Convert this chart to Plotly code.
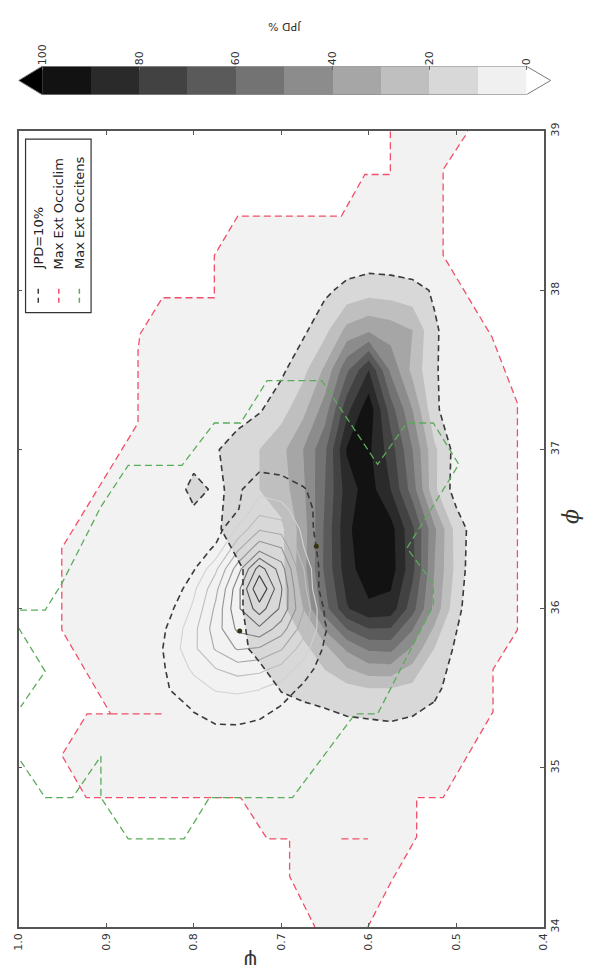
import plotly.graph_objects as go

# ---------------------------------------------------------------------------
# Joint probability density (JPD %) of the first data set, on a psi/phi grid
# ---------------------------------------------------------------------------
PSI_F = [0.45, 0.475, 0.5, 0.525, 0.55, 0.575, 0.6, 0.625, 0.65,
         0.675, 0.7, 0.725, 0.75, 0.775, 0.8, 0.825, 0.85]
PHI_F = [35.0, 35.25, 35.5, 35.75, 36.0, 36.25, 36.5, 36.75,
         37.0, 37.25, 37.5, 37.75, 38.0, 38.25, 38.5]
JPD_FILLED = [
    [0, 0, 0, 1, 2, 2, 2, 2, 2, 1, 1, 0, 0, 0, 0, 0, 0],
    [0, 0, 2, 6, 7, 8, 7, 7, 6, 6, 5, 3, 1, 0, 0, 0, 0],
    [0, 3, 6, 12, 17, 20, 20, 17, 14, 12, 10.5, 6, 2, 0, 0, 0, 0],
    [0, 0, 8, 20, 38, 53, 52, 42, 27, 17, 14, 12, 8, 3, 0, 0, 0],
    [0, 1, 13, 37, 64, 86, 88, 79, 56, 30, 17, 13, 9, 4, 0, 0, 0],
    [0, 0, 17, 40, 73, 95, 96, 86, 62, 36, 17, 13, 9, 5, 0, 0, 0],
    [0, 3, 16, 42, 72, 94, 97, 88, 62, 35, 18, 15, 13, 9, 4, 0, 0],
    [0, 0, 5, 22, 55, 80, 95, 85, 60, 38, 25, 20, 13, 8, 14, 3, 0],
    [0, 0, 6, 22, 50, 75, 92, 91, 58, 40, 27, 20, 15, 9, 4, 0, 0],
    [0, 0, 3, 12, 40, 65, 97, 77, 45, 27, 16, 9, 5, 0, 0, 0, 0],
    [0, 0, 5, 11, 27, 48, 80, 58, 32, 17, 8, 4, 0, 0, 0, 0, 0],
    [0, 0, 6, 11, 30, 35, 38, 33, 17, 8, 4, 0, 0, 0, 0, 0, 0],
    [0, 0, 5, 9, 13, 15, 16, 13, 8, 4, 2, 0, 0, 0, 0, 0, 0],
    [0, 0, 0, 1, 2, 2, 2, 2, 1, 0, 0, 0, 0, 0, 0, 0, 0],
    [0, 0, 0, 0, 0, 0, 0, 0, 0, 0, 0, 0, 0, 0, 0, 0, 0],
]

# ---------------------------------------------------------------------------
# JPD (%) of the second data set, drawn as line contours
# ---------------------------------------------------------------------------
PSI_L = [0.625, 0.65, 0.675, 0.7, 0.725, 0.75, 0.775, 0.8, 0.825, 0.85]
PHI_L = [35.0, 35.125, 35.25, 35.375, 35.5, 35.625, 35.75, 35.875, 36.0,
         36.125, 36.25, 36.375, 36.5, 36.625, 36.75, 36.875, 37.0]
JPD_LINES = [
    [0, 0, 0, 0, 0, 0, 0, 0, 0, 0],
    [0, 0, 0, 1, 3, 4, 4, 3, 1, 0],
    [0, 0, 1, 3, 7, 9, 9, 6, 2, 0],
    [0, 0, 3, 9, 14, 15, 14, 11, 5, 0],
    [0, 0, 8, 16, 20.5, 22, 21, 16, 11, 2],
    [0, 4, 16, 27, 33, 35, 30, 22, 13, 3],
    [0, 8, 25, 41, 49, 51, 41, 28, 15, 3],
    [0, 11, 35, 55, 68, 62, 45, 27, 13, 2],
    [0, 8, 41, 68, 85, 68, 42, 22, 9, 0],
    [0, 0, 35, 71, 100, 66, 37, 18, 2, 0],
    [0, 2, 31, 65, 85, 55, 28, 9, 2, 0],
    [0, 3, 21, 51, 57, 38, 12, 3, 0, 0],
    [0, 2, 17, 36, 39, 22, 4, 0, 0, 0],
    [0, 5, 14, 23, 26, 9, 3, 0, 0, 0],
    [0, 4, 11, 15, 17, 8, 2, 0, 0, 0],
    [0, 0, 4, 8, 9, 5, 2, 0, 0, 0],
    [0, 0, 0, 2, 3, 2, 0, 0, 0, 0],
]

# Points marked on the 10 % contours
DOT_PSI = [0.660, 0.7475]
DOT_PHI = [36.393, 35.861]

# ---------------------------------------------------------------------------
# Maximum extent of Occiclim (red): two open boundary pieces (psi, phi)
# ---------------------------------------------------------------------------
CLIM_A_PSI = [0.5754, 0.5754, 0.6045, 0.6313, 0.7497, 0.7765, 0.7765, 0.8358,
              0.8615, 0.8637, 0.8637, 0.9508, 0.9508, 0.9508,
              0.8950, 0.9218, 0.9508, 0.9229, 0.7464, 0.7162, 0.6905, 0.6905,
              0.6615]
CLIM_A_PHI = [39.0, 38.728, 38.728, 38.467, 38.467, 38.220, 37.954, 37.954,
              37.724, 37.619, 37.167, 36.381, 36.053, 35.867,
              35.340, 35.340, 35.080, 34.814, 34.814, 34.554, 34.554, 34.319,
              34.0]
CLIM_B_PSI = [0.6011, 0.5754, 0.5453, 0.5453, 0.5151, 0.4581, 0.4581, 0.4302,
              0.4302, 0.4592, 0.5151, 0.5151, 0.4894, 0.4872]
CLIM_B_PHI = [34.0, 34.276, 34.567, 34.814, 34.814, 35.353, 35.619, 35.867,
              37.291, 37.706, 38.220, 38.759, 38.975, 39.0]
# short isolated pieces of the same boundary
CLIM_C_PSI = [0.8950, 0.8358, None, 0.6313, 0.6011]
CLIM_C_PHI = [35.340, 35.340, None, 34.554, 34.554]

# ---------------------------------------------------------------------------
# Maximum extent of Occitens (green)
# ---------------------------------------------------------------------------
TENS_PSI = [1.0, 0.9698, 0.9978, None,
            0.9978, 0.9698, 0.9385, 0.9061, 0.9061, 0.8749, 0.8112, 0.7821,
            0.6872, 0.6156, 0.5899, 0.5263, 0.5263, 0.5564, 0.4972, 0.5263,
            0.5564, 0.5899, 0.6536, 0.7162, 0.7464, 0.7765, 0.8134, 0.8469,
            0.8749, 0.9061, 0.9508, 0.9698, 1.0]
TENS_PHI = [35.879, 35.607, 35.384, None,
            35.043, 34.814, 34.814, 35.074, 34.814, 34.554, 34.554, 34.814,
            34.814, 35.340, 35.340, 36.022, 36.158, 36.381, 36.907, 37.167,
            37.167, 36.907, 37.433, 37.433, 37.167, 37.167, 36.901, 36.901,
            36.901, 36.641, 36.158, 35.991, 35.991]

# Colour bar
CBAR_LEVELS = [0, 10, 20, 30, 40, 50, 60, 70, 80, 90, 100]
CBAR_TICKS = [0, 20, 40, 60, 80, 100]
GREYS = ['#f0f0f0', '#d8d8d8', '#bfbfbf', '#a6a6a6', '#8c8c8c',
         '#737373', '#5a5a5a', '#424242', '#2a2a2a', '#121212']

PSI_TICKS = [0.4, 0.5, 0.6, 0.7, 0.8, 0.9, 1.0]
PHI_TICKS = [34, 35, 36, 37, 38, 39]

RED = '#f0506a'
GREEN = '#5aac5a'
DARK = '#3a3a3a'
W, H = 589, 976


def px_x(p):
    return p / W


def px_y(p):
    return 1 - p / H


def step_scale(colors):
    n = len(colors)
    scale = []
    for i, c in enumerate(colors):
        scale.append([i / n, c])
        scale.append([(i + 1) / n, c])
    return scale


fig = go.Figure()

# light-grey area covered by the Occiclim extent (drawn under the contours)
region_psi = CLIM_A_PSI + CLIM_B_PSI
region_phi = CLIM_A_PHI + CLIM_B_PHI
path = 'M ' + ' L '.join(f'{a},{b}' for a, b in zip(region_psi, region_phi)) + ' Z'
fig.add_shape(type='path', path=path, xref='x', yref='y', layer='below',
              fillcolor='#f2f2f2', line=dict(width=0))

# filled JPD contours
fill_scale = step_scale(['rgba(255,255,255,0)'] + GREYS[1:])
fig.add_trace(go.Contour(
    x=PSI_F, y=PHI_F, z=JPD_FILLED, zmin=0, zmax=100,
    autocontour=False,
    contours=dict(start=10, end=90, size=10, coloring='fill', showlines=False),
    colorscale=fill_scale, showscale=False,
    line=dict(width=0, smoothing=0), hoverinfo='skip'))

# line contours of the second JPD
fig.add_trace(go.Contour(
    x=PSI_L, y=PHI_L, z=JPD_LINES, zmin=10, zmax=100,
    autocontour=False,
    contours=dict(start=20, end=90, size=10, coloring='lines'),
    colorscale=[[0, '#d2d2d2'], [1, '#404040']], showscale=False,
    line=dict(width=1.1, smoothing=0), hoverinfo='skip'))

# JPD = 10 % dashed contours of both data sets
for xs, ys, zs in ((PSI_F, PHI_F, JPD_FILLED), (PSI_L, PHI_L, JPD_LINES)):
    fig.add_trace(go.Contour(
        x=xs, y=ys, z=zs, autocontour=False,
        contours=dict(start=10, end=10, size=10, coloring='none'),
        line=dict(color=DARK, width=1.6, dash='6px,4px', smoothing=0),
        showscale=False, hoverinfo='skip'))

# Occiclim extent
for xs, ys in ((CLIM_A_PSI, CLIM_A_PHI), (CLIM_B_PSI, CLIM_B_PHI),
               (CLIM_C_PSI, CLIM_C_PHI)):
    fig.add_trace(go.Scatter(x=xs, y=ys, mode='lines', connectgaps=False,
                             line=dict(color=RED, width=1.3, dash='7px,4px'),
                             hoverinfo='skip'))

# Occitens extent
fig.add_trace(go.Scatter(x=TENS_PSI, y=TENS_PHI, mode='lines', connectgaps=False,
                         line=dict(color=GREEN, width=1.3, dash='7px,4px'),
                         hoverinfo='skip'))

fig.add_trace(go.Scatter(x=DOT_PSI, y=DOT_PHI, mode='markers',
                         marker=dict(color='#34340f', size=5), hoverinfo='skip'))

# ---- colour bar (horizontal, on top) ----
centers = [(a + b) / 2 for a, b in zip(CBAR_LEVELS[:-1], CBAR_LEVELS[1:])]
fig.add_trace(go.Heatmap(x=centers, y=[0.5], z=[centers], zmin=0, zmax=100,
                         colorscale=step_scale(GREYS), showscale=False,
                         xaxis='x2', yaxis='y2', hoverinfo='skip'))
top, bottom = CBAR_LEVELS[-1], CBAR_LEVELS[0]
fig.add_trace(go.Scatter(x=[top, top + 4.85, top], y=[0, 0.5, 1], fill='toself',
                         fillcolor='#000000', mode='lines', line=dict(width=0),
                         xaxis='x2', yaxis='y2', hoverinfo='skip'))
fig.add_trace(go.Scatter(x=[bottom, bottom - 5.05, bottom], y=[0, 0.5, 1],
                         fill='toself', fillcolor='#ffffff', mode='lines',
                         line=dict(width=0), xaxis='x2', yaxis='y2',
                         hoverinfo='skip'))
fig.add_trace(go.Scatter(x=[top, bottom, bottom - 5.05, bottom, top, top + 4.85, top],
                         y=[1, 1, 0.5, 0, 0, 0.5, 1], mode='lines',
                         line=dict(color='#7a7a7a', width=1),
                         xaxis='x2', yaxis='y2', hoverinfo='skip'))

tickfont = dict(family='DejaVu Sans', size=11, color='#333333')
fig.update_layout(
    width=W, height=H, autosize=False,
    margin=dict(l=0, r=0, t=0, b=0),
    paper_bgcolor='white', plot_bgcolor='white',
    showlegend=False,
    font=dict(family='DejaVu Sans', color='#222222'),
    xaxis=dict(domain=[px_x(13), px_x(550)], range=[1.0, 0.4],
               tickvals=PSI_TICKS, ticktext=[f'{v:.1f}' for v in PSI_TICKS],
               tickangle=-90, ticks='inside', ticklen=4, tickcolor='#555555',
               showline=True, linecolor='#555555', linewidth=1.5,
               mirror='ticks', showgrid=False, zeroline=False,
               tickfont=tickfont, anchor='y'),
    yaxis=dict(domain=[px_y(931.5), px_y(124)], range=[34, 39], side='right',
               tickvals=PHI_TICKS, ticktext=[str(v) for v in PHI_TICKS],
               tickangle=-90, ticks='inside', ticklen=4, tickcolor='#555555',
               showline=True, linecolor='#555555', linewidth=1.5,
               mirror='ticks', showgrid=False, zeroline=False,
               tickfont=tickfont, anchor='x'),
    xaxis2=dict(domain=[px_x(9.8), px_x(560.2)], range=[105.5, -5.7],
                anchor='y2', side='top', tickvals=CBAR_TICKS,
                ticktext=[str(v) for v in CBAR_TICKS], tickangle=-90,
                ticks='inside', ticklen=4, tickcolor='#666666',
                showline=False, showgrid=False, zeroline=False,
                tickfont=tickfont, fixedrange=True),
    yaxis2=dict(domain=[px_y(87), px_y(58)], range=[0, 1], anchor='x2',
                visible=False, fixedrange=True),
)

# colour bar title, axis titles (rotated like the rest of the figure)
fig.add_annotation(text='JPD %', x=px_x(285), y=px_y(17), xref='paper', yref='paper',
                   xanchor='center', yanchor='middle', textangle=180,
                   showarrow=False,
                   font=dict(family='DejaVu Sans', size=11, color='#333333'))
fig.add_annotation(text='ψ', x=px_x(250), y=px_y(966), xref='paper', yref='paper',
                   xanchor='center', yanchor='middle', textangle=180,
                   showarrow=False,
                   font=dict(family='DejaVu Sans', size=20, color='#333333'))
fig.add_annotation(text='<i>ϕ</i>', x=px_x(577), y=px_y(515), xref='paper', yref='paper',
                   xanchor='center', yanchor='middle', textangle=-90,
                   showarrow=False,
                   font=dict(family='DejaVu Serif', size=22, color='#333333'))

# legend box with rotated entries
fig.add_shape(type='rect', xref='paper', yref='paper',
              x0=px_x(20), x1=px_x(87), y0=px_y(308), y1=px_y(132),
              line=dict(color='#333333', width=1.2), fillcolor='white')
LEGEND = [('JPD=10%', DARK, 33), ('Max Ext Occiclim', RED, 54), ('Max Ext Occitens', GREEN, 75)]
for label, color, xc in LEGEND:
    fig.add_shape(type='line', xref='paper', yref='paper',
                  x0=px_x(xc), x1=px_x(xc), y0=px_y(298), y1=px_y(280),
                  line=dict(color=color, width=1.5, dash='5px,4px'))
    fig.add_annotation(text=label, x=px_x(xc), y=px_y(266), xref='paper', yref='paper',
                       xanchor='center', yanchor='bottom', textangle=-90,
                       showarrow=False,
                       font=dict(family='DejaVu Sans', size=13, color='#222222'))

fig.write_html('out.html')
